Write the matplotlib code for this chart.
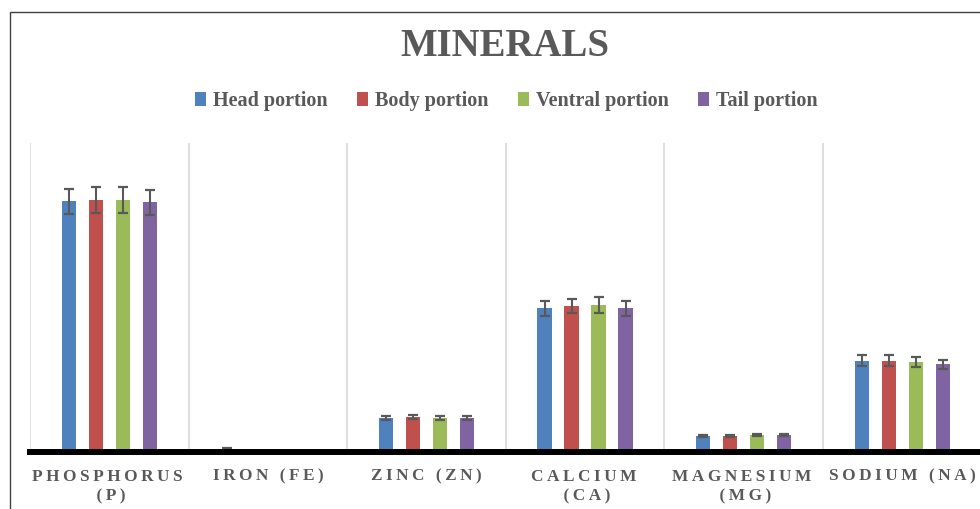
import matplotlib.pyplot as plt
import numpy as np
from matplotlib.patches import Patch, Rectangle

# Mineral content by fish portion
minerals = ['PHOSPHORUS\n(P)', 'IRON (FE)', 'ZINC (ZN)', 'CALCIUM\n(CA)', 'MAGNESIUM\n(MG)', 'SODIUM (NA)']
portions = ['Head portion', 'Body portion', 'Ventral portion', 'Tail portion']

head = [251, 1.5, 34.5, 143.7, 16.3, 91.3]
body = [252, 0.8, 35.5, 146, 16.3, 91.3]
ventral = [252, 0.7, 34.5, 147, 17, 90]
tail = [250, 0.8, 34.5, 143.7, 16.7, 87.7]

head_err = [12.5, 2.8, 2, 7.3, 1, 5.3]
body_err = [13, 0.5, 2, 7.2, 1, 5.3]
ventral_err = [12.7, 0.4, 2, 8, 1, 5.3]
tail_err = [12.5, 0.5, 2, 7.3, 1, 4.7]

colors = ['#4F81BD', '#C0504D', '#9BBB59', '#8064A2']
grey = '#595959'
serif = ['Liberation Serif', 'DejaVu Serif']

values = [head, body, ventral, tail]
errors = [head_err, body_err, ventral_err, tail_err]

fig = plt.figure(figsize=(9.8, 5.09), dpi=100)
ax = fig.add_axes([30 / 980, 57 / 509, 951.6 / 980, 309 / 509])

x = np.arange(len(minerals))
offsets = [-0.255, -0.085, 0.085, 0.255]
for i in range(len(portions)):
    ax.bar(x + offsets[i], values[i], width=0.091, color=colors[i], zorder=2)
    ax.errorbar(x + offsets[i], values[i], yerr=errors[i], fmt='none',
                ecolor=grey, elinewidth=1.5, capsize=3.5, capthick=1.6, zorder=3)

# category separators
for b in np.arange(-0.5, len(minerals), 1.0):
    ax.axvline(b, color='#d9d9d9', lw=1.2, zorder=1)

ax.set_xlim(-0.5, len(minerals) - 0.5)
ax.set_ylim(0, 309)
ax.set_yticks([])
for s in ['top', 'right', 'left']:
    ax.spines[s].set_visible(False)
ax.spines['bottom'].set_linewidth(4.3)
ax.spines['bottom'].set_color('black')
ax.spines['bottom'].set_zorder(4)

spaced = ['\u2009'.join(m) for m in minerals]
ax.set_xticks(x)
ax.set_xticklabels(spaced, fontfamily=serif, fontweight='bold', fontsize=12.4,
                   color=grey, linespacing=1.3)
ax.tick_params(axis='x', length=0, pad=12)

fig.text(0.515, 1 - 46 / 509, 'MINERALS', ha='center', va='center',
         fontfamily=serif, fontweight='bold', fontsize=28, color=grey)

handles = [Patch(facecolor=c, edgecolor='none') for c in colors]
fig.legend(handles, portions, loc='center', bbox_to_anchor=(0.517, 1 - 101 / 509),
           ncol=4, frameon=False, handlelength=0.55, handleheight=0.75,
           handletextpad=0.35, columnspacing=1.45,
           prop={'family': serif, 'weight': 'bold', 'size': 14.5}, labelcolor=grey)

# chart border
fig.patches.append(Rectangle((9.5 / 980, -0.1), 1.2, 1.1 - 12 / 509, transform=fig.transFigure,
                             fill=False, edgecolor='#404040', lw=1.0))

plt.savefig('out.png', dpi=100)
